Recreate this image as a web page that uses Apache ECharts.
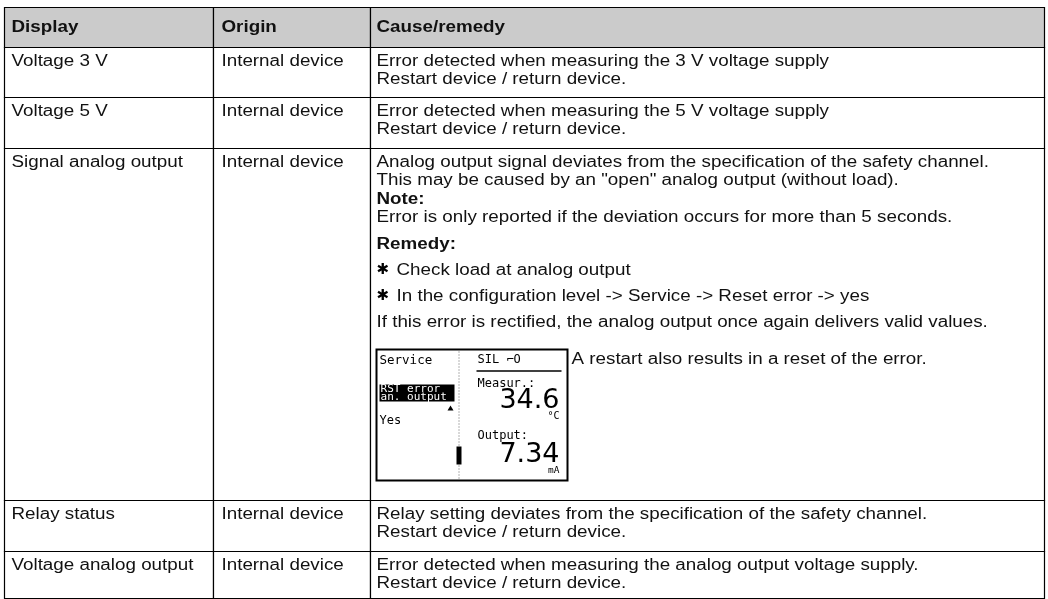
<!DOCTYPE html>
<html><head><meta charset="utf-8">
<script src="https://cdn.jsdelivr.net/npm/echarts@6/dist/echarts.min.js"></script>
<style>html,body{margin:0;padding:0;background:#fff}#c{width:1048px;height:599px}</style>
</head><body><div id="c"></div>
<script>
// ---- table content ----
const headers = ['Display', 'Origin', 'Cause/remedy'];
const displays = ['Voltage 3 V', 'Voltage 5 V', 'Signal analog output', 'Relay status', 'Voltage analog output'];
const origins = ['Internal device', 'Internal device', 'Internal device', 'Internal device', 'Internal device'];
const causeLines = [
  ['Error detected when measuring the 3 V voltage supply', 'Restart device / return device.'],
  ['Error detected when measuring the 5 V voltage supply', 'Restart device / return device.'],
  ['Analog output signal deviates from the specification of the safety channel.',
   'This may be caused by an "open" analog output (without load).',
   'Note:',
   'Error is only reported if the deviation occurs for more than 5 seconds.',
   'Remedy:',
   'Check load at analog output',
   'In the configuration level -> Service -> Reset error -> yes',
   'If this error is rectified, the analog output once again delivers valid values.',
   'A restart also results in a reset of the error.'],
  ['Relay setting deviates from the specification of the safety channel.', 'Restart device / return device.'],
  ['Error detected when measuring the analog output voltage supply.', 'Restart device / return device.']
];
const signalKinds = ['text', 'text', 'bold', 'text', 'bold', 'bullet', 'bullet', 'text', 'screen'];
const screenLeft = ['Service', 'RST error', 'an. output', 'Yes'];
const screenRight = ['SIL \u2310O', 'Measur.:', '34.6', '°C', 'Output:', '7.34', 'mA'];

// ---- layout (pixel space of the hidden axes) ----
const COLS = [4, 213, 370, 1044];
const ROWS = [7, 47, 97, 148, 500, 551, 598];
const PADX = [7, 8, 6];
const TWO_LINE_Y = [14, 32.5];
const SIGNAL_Y = [14, 32.5, 51, 69.5, 96, 122, 148, 174.5, 201];
const FS = 16, SX = 1.175;
const FONT = '"Liberation Sans", Arial, Helvetica, sans-serif';
const MONO = '"DejaVu Sans Mono", "Liberation Mono", monospace';

const cells = [];
for (let r = 0; r < ROWS.length - 1; r++) for (let c = 0; c < 3; c++) cells.push([c, r]);

function txt(x, y, s, weight) {
  return {
    type: 'text', x: x, y: y, scaleX: SX,
    style: { text: s, fontSize: FS, fontFamily: FONT, fontWeight: weight || 'normal', fill: '#111', verticalAlign: 'middle', align: 'left' }
  };
}

function screen(x, y) {
  const W = 191, H = 131;
  const ch = [];
  const sm = (tx, ty, s, fs, fill, align, sx) => ({ type: 'text', x: tx, y: ty, scaleX: sx || 1, style: { text: s, fontSize: fs, fontFamily: MONO, fill: fill || '#000', verticalAlign: 'middle', align: align || 'left' } });
  ch.push({ type: 'rect', shape: { x: 0, y: 0, width: W, height: H }, style: { fill: '#fff', stroke: '#000', lineWidth: 2 } });
  ch.push({ type: 'line', shape: { x1: 82.5, y1: 2, x2: 82.5, y2: H - 2 }, style: { stroke: '#666', lineWidth: 1, lineDash: [1, 2] } });
  ch.push({ type: 'rect', shape: { x: 80, y: 97, width: 5, height: 18 }, style: { fill: '#000' } });
  ch.push(sm(3, 11, screenLeft[0], 12.5));
  ch.push({ type: 'rect', shape: { x: 3, y: 35, width: 75, height: 17 }, style: { fill: '#000' } });
  ch.push(sm(4, 39.5, screenLeft[1], 10.5, '#fff', 'left', 1.05));
  ch.push(sm(4, 47.5, screenLeft[2], 10.5, '#fff', 'left', 1.05));
  ch.push({ type: 'polygon', shape: { points: [[71, 61], [77, 61], [74, 56]] }, style: { fill: '#000' } });
  ch.push(sm(3, 71, screenLeft[3], 12));
  ch.push(sm(101, 10, screenRight[0], 12));
  ch.push({ type: 'line', shape: { x1: 100, y1: 21.5, x2: 185, y2: 21.5 }, style: { stroke: '#000', lineWidth: 1.5 } });
  ch.push(sm(101, 34, screenRight[1], 12));
  const big = (ty, s) => ({ type: 'text', x: 183, y: ty, style: { text: s, fontSize: 27, fontFamily: '"DejaVu Sans", sans-serif', fill: '#000', verticalAlign: 'middle', align: 'right' } });
  ch.push(big(51, screenRight[2]));
  ch.push(sm(183, 67, screenRight[3], 10, '#000', 'right'));
  ch.push(sm(101, 86, screenRight[4], 12));
  ch.push(big(105, screenRight[5]));
  ch.push(sm(183, 121, screenRight[6], 9.5, '#000', 'right'));
  return { type: 'group', x: x, y: y, children: ch };
}

function renderItem(params, api) {
  const c = api.value(0), r = api.value(1);
  const p0 = api.coord([COLS[c], ROWS[r]]), p1 = api.coord([COLS[c + 1], ROWS[r + 1]]);
  const x0 = Math.round(p0[0]) + 0.5, y0 = Math.round(p0[1]) + 0.5;
  const x1 = Math.round(p1[0]) + 0.5, y1 = Math.round(p1[1]) + 0.5;
  const children = [{ type: 'rect', shape: { x: x0, y: y0, width: x1 - x0, height: y1 - y0 }, style: { fill: r === 0 ? '#cbcbcb' : '#fff', stroke: '#000', lineWidth: 1.2 } }];
  const tx = x0 + PADX[c];
  if (r === 0) {
    children.push(txt(tx, (y0 + y1) / 2, headers[c], 'bold'));
  } else if (c === 0) {
    children.push(txt(tx, y0 + TWO_LINE_Y[0], displays[r - 1]));
  } else if (c === 1) {
    children.push(txt(tx, y0 + TWO_LINE_Y[0], origins[r - 1]));
  } else {
    const lines = causeLines[r - 1];
    if (lines.length === 2) {
      lines.forEach((s, i) => children.push(txt(tx, y0 + TWO_LINE_Y[i], s)));
    } else {
      lines.forEach((s, i) => {
        const k = signalKinds[i], ly = y0 + SIGNAL_Y[i];
        if (k === 'bold') children.push(txt(tx, ly, s, 'bold'));
        else if (k === 'bullet') {
          children.push({ type: 'text', x: tx, y: ly, style: { text: '\u2731', fontSize: 15, fontFamily: '"DejaVu Sans", sans-serif', fill: '#000', verticalAlign: 'middle', align: 'left' } });
          children.push(txt(tx + 20, ly, s));
        } else if (k === 'screen') {
          children.push(screen(tx, ly));
          children.push(txt(tx + 195, ly + 10, s));
        } else children.push(txt(tx, ly, s));
      });
    }
  }
  return { type: 'group', children: children };
}

const chart = echarts.init(document.getElementById('c'), null, { renderer: 'canvas' });
chart.setOption({
  animation: false,
  grid: { left: 0, right: 0, top: 0, bottom: 0 },
  xAxis: { type: 'value', min: 0, max: 1048, show: false },
  yAxis: { type: 'value', min: 0, max: 599, inverse: true, show: false },
  series: [{ type: 'custom', renderItem: renderItem, data: cells, clip: false, silent: true, encode: { x: 0, y: 1 } }]
});
</script></body></html>
